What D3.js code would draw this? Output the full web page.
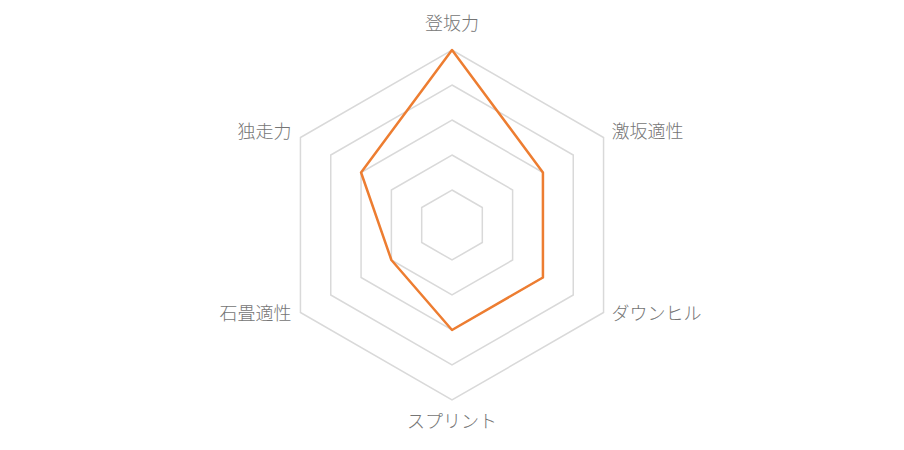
<!DOCTYPE html>
<html>
<head>
<meta charset="utf-8">
<script src="https://cdn.jsdelivr.net/npm/d3@7"></script>
<style>
  body { margin: 0; background: #fff; }
  text { font-family: "Noto Sans CJK JP", "Noto Sans", sans-serif; fill: #757575; font-size: 18px; font-weight: 300; }
</style>
</head>
<body>
<svg id="chart"></svg>
<script>
var categories = ["登坂力", "激坂適性", "ダウンヒル", "スプリント", "石畳適性", "独走力"];
var values = [5, 3, 3, 3, 2, 3];
var levels = [1, 2, 3, 4, 5];

var screen = {width: 904, height: 450};
var center = {x: 452, y: 225};
var outer = 175;

var svg = d3.select("#chart")
    .attr("width", screen.width)
    .attr("height", screen.height);

var rScale = d3.scaleLinear()
    .domain([0, 5])
    .range([0, outer]);

var angle = d3.scalePoint()
    .domain(categories)
    .range([0, 2 * Math.PI * (categories.length - 1) / categories.length]);

var target = svg.append("g")
    .attr("transform", "translate(" + center.x + "," + center.y + ")");

var radial = d3.lineRadial()
    .angle(function(d) { return angle(d.cat); })
    .radius(function(d) { return rScale(d.v); })
    .curve(d3.curveLinearClosed);

// grid hexagons
target.selectAll(".grid")
    .data(levels)
    .enter()
    .append("path")
    .attr("class", "grid")
    .attr("fill", "none")
    .attr("stroke", "#d9d9d9")
    .attr("stroke-width", 1.5)
    .attr("d", function(lv) {
        return radial(categories.map(function(c) { return {cat: c, v: lv}; }));
    });

// data line
target.append("path")
    .datum(categories.map(function(c, i) { return {cat: c, v: values[i]}; }))
    .attr("fill", "none")
    .attr("stroke", "#ED7D31")
    .attr("stroke-width", 2.5)
    .attr("stroke-linejoin", "round")
    .attr("d", radial);

// labels
target.selectAll(".lab")
    .data(categories)
    .enter()
    .append("text")
    .attr("class", "lab")
    .text(function(c) { return c; })
    .attr("x", function(c) {
        var s = Math.sin(angle(c));
        var x = rScale(5) * s;
        if (s > 0.1) return x + 8;
        if (s < -0.1) return x - 9;
        return x;
    })
    .attr("y", function(c) {
        var cs = Math.cos(angle(c));
        var y = -rScale(5) * cs;
        if (cs > 0.9) return y - 26;
        if (cs < -0.9) return y + 22;
        if (cs > 0) return y - 6;
        return y + 1;
    })
    .attr("dy", "0.35em")
    .attr("text-anchor", function(c) {
        var s = Math.sin(angle(c));
        if (s > 0.1) return "start";
        if (s < -0.1) return "end";
        return "middle";
    });
</script>
</body>
</html>
